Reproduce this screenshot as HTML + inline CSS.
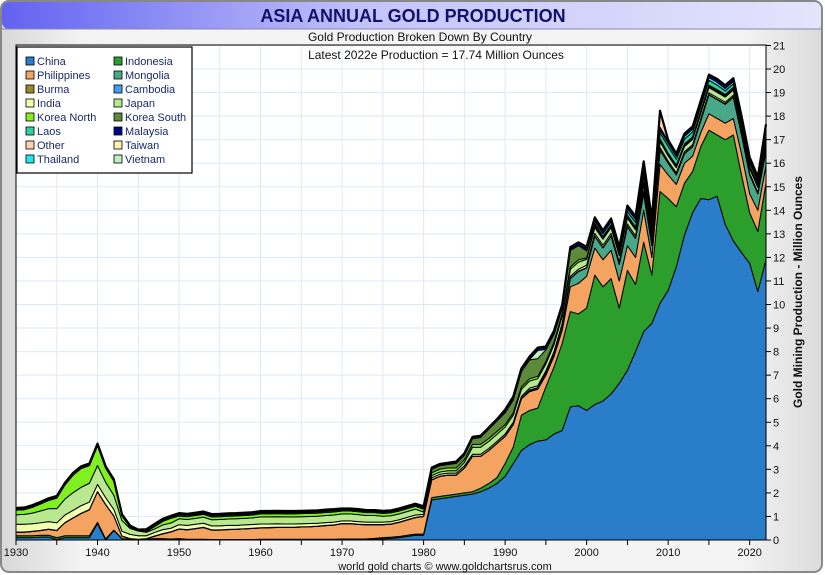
<!DOCTYPE html>
<html><head><meta charset="utf-8"><style>
html,body{margin:0;padding:0;background:#fff;}
svg{display:block;font-family:"Liberation Sans",sans-serif;}
</style></head><body>
<svg id="chart" width="825" height="575" viewBox="0 0 825 575" xmlns="http://www.w3.org/2000/svg">
<defs>
<linearGradient id="tg" x1="0" x2="1" y1="0" y2="0"><stop offset="0" stop-color="#6262f2"/><stop offset="0.45" stop-color="#c4c4fa"/><stop offset="1" stop-color="#e4e4fc"/></linearGradient>
<linearGradient id="bg" x1="0" x2="1" y1="0" y2="0"><stop offset="0" stop-color="#d8d8d8"/><stop offset="0.1" stop-color="#f4f4f4"/><stop offset="0.9" stop-color="#f4f4f4"/><stop offset="1" stop-color="#dcdcdc"/></linearGradient>
</defs>
<rect x="1" y="1" width="821" height="571" rx="8" fill="url(#bg)" stroke="#888" stroke-width="2"/>
<rect x="2" y="2" width="819" height="27" rx="7" fill="url(#tg)"/>
<line x1="2" y1="29" x2="821" y2="29" stroke="#8888aa" stroke-width="1"/>
<text x="413" y="22" text-anchor="middle" font-size="18" font-weight="bold" fill="#12126e">ASIA ANNUAL GOLD PRODUCTION</text>
<rect x="16" y="45" width="750" height="495" fill="#fff"/>
<g id="grid"></g>
<g id="areas"></g>
<rect x="16" y="45" width="750" height="495" fill="none" stroke="#000" stroke-width="1"/>
<g id="axes"></g>
<text x="420" y="41" text-anchor="middle" font-size="12" fill="#111">Gold Production Broken Down By Country</text>
<text x="436" y="59" text-anchor="middle" font-size="12" fill="#111">Latest 2022e Production = 17.74 Million Ounces</text>
<text transform="translate(802,292) rotate(-90)" text-anchor="middle" font-size="12" font-weight="bold" fill="#111">Gold Mining Production - Million Ounces</text>
<text x="445" y="570" text-anchor="middle" font-size="11" fill="#111">world gold charts © www.goldchartsrus.com</text>
<g id="legend"><rect x="17" y="47" width="175" height="126" fill="#fff" stroke="#000" stroke-width="1.2"/></g>
</svg>
<script>
const firstYear = 1930;
const seriesNames = ["China","Indonesia","Philippines","Mongolia","Burma","India","Japan","Korea North","Korea South","Vietnam","Laos","Thailand","Malaysia","Other","Taiwan","Cambodia"];
const seriesColors = ["#2a7dc8","#2c9e2c","#f4a460","#4aa88a","#9a8a2a","#f0ffb0","#b8e890","#80f020","#5a8a3a","#c0f0c0","#30d0a0","#20e8f0","#000080","#ffd0b0","#fff0b0","#40a0f0"];
const yTicks = [0,1,2,3,4,5,6,7,8,9,10,11,12,13,14,15,16,17,18,19,20,21];
const xTicks = [1930,1940,1950,1960,1970,1980,1990,2000,2010,2020];
const china = [0.1,0.1,0.1,0.12,0.12,0.02,0.1,0.1,0.1,0.1, 0.7,0.0,0.4,0.05,0.02,0.0,0.02,0.05,0.05,0.03, 0.05,0.02,0.02,0.02,0.01,0.01,0.01,0.01,0.01,0.01, 0.01,0.01,0.01,0.01,0.01,0.01,0.01,0.01,0.01,0.01, 0.01,0.01,0.01,0.02,0.03,0.05,0.07,0.1,0.15,0.2, 0.2,1.7,1.75,1.8,1.85,1.9,1.95,2.05,2.2,2.4, 2.7,3.25,3.8,4.05,4.2,4.25,4.5,4.65,5.65,5.7, 5.5,5.75,5.9,6.2,6.65,7.2,8.0,8.85,9.2,10.05, 10.6,11.6,12.95,13.9,14.5,14.45,14.6,13.4,12.7,12.2, 11.75,10.55,11.9];
const indonesia = [0.08,0.08,0.08,0.08,0.08,0.08,0.08,0.08,0.08,0.08, 0.05,0.05,0.02,0.01,0.01,0.01,0.01,0.01,0.01,0.01, 0.01,0.01,0.01,0.01,0.01,0.01,0.01,0.01,0.01,0.01, 0.02,0.02,0.02,0.02,0.02,0.02,0.02,0.02,0.02,0.02, 0.03,0.03,0.03,0.03,0.04,0.05,0.05,0.05,0.05,0.05, 0.05,0.1,0.1,0.1,0.1,0.1,0.1,0.15,0.2,0.25, 0.55,0.7,1.5,1.45,1.4,2.25,2.85,3.7,4.05,3.9, 4.35,5.5,4.85,4.9,3.2,4.25,2.85,3.8,2.05,4.75, 3.9,2.55,2.2,1.75,2.2,2.95,2.6,3.6,4.5,3.3, 2.15,2.55,3.25];
const philippines = [0.15,0.15,0.18,0.2,0.25,0.3,0.55,0.75,0.95,1.1, 1.3,1.45,0.6,0.1,0.02,0.01,0.02,0.1,0.2,0.3, 0.4,0.4,0.45,0.5,0.4,0.4,0.42,0.43,0.45,0.47, 0.48,0.49,0.5,0.5,0.5,0.52,0.53,0.55,0.58,0.6, 0.65,0.65,0.62,0.6,0.58,0.55,0.55,0.6,0.65,0.7, 0.75,0.75,0.85,0.85,0.8,1.05,1.5,1.35,1.4,1.45, 1.15,0.95,0.7,0.8,0.8,0.5,0.45,0.55,1.05,1.3, 1.35,1.15,1.15,1.2,1.15,1.05,1.15,1.35,0.75,1.15, 1.0,0.95,0.85,0.65,0.6,0.7,0.7,0.7,0.7,0.9, 0.8,0.9,0.75];
const mongolia = [0,0,0,0,0,0,0,0,0,0, 0,0,0,0,0,0,0,0,0,0, 0,0,0,0,0,0,0,0,0,0, 0,0,0,0,0,0,0,0,0,0, 0,0,0,0,0,0,0,0,0,0, 0,0,0,0,0,0,0,0,0,0, 0,0,0,0.05,0.05,0.08,0.1,0.2,0.35,0.5, 0.35,0.5,0.5,0.6,0.7,0.8,0.8,0.7,0.5,0.6, 0.5,0.4,0.4,0.4,0.5,0.8,0.8,0.8,0.9,0.8, 0.8,0.7,0.6];
const burma = [0.01,0.01,0.01,0.01,0.01,0.01,0.01,0.01,0.01,0.01, 0.01,0.01,0.01,0.01,0.01,0.01,0.01,0.01,0.01,0.01, 0.01,0.01,0.01,0.01,0.01,0.01,0.01,0.01,0.01,0.01, 0.01,0.01,0.01,0.01,0.01,0.01,0.01,0.01,0.01,0.01, 0.01,0.01,0.01,0.01,0.01,0.01,0.01,0.01,0.01,0.01, 0.01,0.01,0.01,0.01,0.01,0.01,0.01,0.01,0.01,0.01, 0.02,0.02,0.02,0.02,0.02,0.02,0.02,0.02,0.02,0.02, 0.02,0.02,0.02,0.02,0.02,0.02,0.02,0.02,0.02,0.02, 0.02,0.02,0.02,0.02,0.02,0.02,0.02,0.02,0.02,0.02, 0.02,0.02,0.02];
const india = [0.33,0.33,0.32,0.32,0.32,0.32,0.32,0.32,0.32,0.32, 0.3,0.29,0.27,0.2,0.18,0.15,0.12,0.15,0.17,0.15, 0.18,0.18,0.18,0.17,0.17,0.17,0.17,0.16,0.16,0.16, 0.16,0.15,0.15,0.14,0.14,0.13,0.13,0.12,0.12,0.12, 0.11,0.11,0.11,0.1,0.1,0.1,0.1,0.1,0.1,0.1, 0.08,0.08,0.08,0.08,0.08,0.08,0.08,0.08,0.08,0.08, 0.08,0.08,0.08,0.08,0.08,0.08,0.08,0.08,0.08,0.08, 0.1,0.1,0.1,0.1,0.1,0.1,0.1,0.1,0.1,0.1, 0.07,0.07,0.07,0.07,0.07,0.07,0.07,0.07,0.07,0.07, 0.05,0.05,0.05];
const japan = [0.4,0.42,0.45,0.5,0.55,0.6,0.68,0.75,0.78,0.8, 0.8,0.65,0.6,0.45,0.25,0.2,0.15,0.15,0.2,0.22, 0.25,0.25,0.25,0.26,0.26,0.27,0.27,0.28,0.28,0.28, 0.3,0.3,0.3,0.3,0.3,0.3,0.3,0.3,0.3,0.3, 0.3,0.3,0.3,0.28,0.28,0.25,0.25,0.25,0.25,0.25, 0.1,0.1,0.1,0.1,0.1,0.15,0.3,0.3,0.3,0.3, 0.3,0.3,0.3,0.3,0.3,0.3,0.3,0.3,0.3,0.3, 0.25,0.25,0.25,0.25,0.25,0.25,0.25,0.25,0.25,0.25, 0.22,0.22,0.22,0.22,0.22,0.22,0.22,0.22,0.22,0.22, 0.2,0.2,0.2];
const koreaNorth = [0.2,0.2,0.25,0.3,0.35,0.45,0.6,0.75,0.8,0.75, 0.85,0.6,0.6,0.2,0.05,0.0,0.02,0.1,0.15,0.2, 0.12,0.12,0.12,0.12,0.12,0.12,0.12,0.12,0.12,0.12, 0.13,0.13,0.13,0.13,0.13,0.13,0.13,0.13,0.13,0.13, 0.12,0.12,0.12,0.12,0.12,0.12,0.12,0.12,0.12,0.12, 0.12,0.12,0.12,0.12,0.12,0.12,0.12,0.12,0.12,0.12, 0.1,0.1,0.1,0.1,0.1,0.1,0.1,0.1,0.1,0.1, 0.06,0.06,0.06,0.06,0.06,0.06,0.06,0.06,0.06,0.06, 0.05,0.05,0.05,0.05,0.05,0.05,0.05,0.05,0.05,0.05, 0.05,0.05,0.05];
const koreaSouth = [0,0,0,0,0,0,0,0,0,0, 0,0,0,0,0,0,0.05,0.05,0.05,0.05, 0.05,0.05,0.05,0.05,0.05,0.05,0.05,0.05,0.05,0.05, 0.05,0.05,0.05,0.05,0.05,0.05,0.05,0.05,0.05,0.05, 0.05,0.05,0.05,0.05,0.05,0.05,0.05,0.05,0.05,0.05, 0.05,0.15,0.15,0.15,0.2,0.2,0.25,0.3,0.4,0.45, 0.5,0.55,0.65,0.8,0.75,0.5,0.35,0.25,0.7,0.6, 0.3,0.1,0.03,0.03,0.03,0.03,0.03,0.03,0.03,0.03, 0.03,0.03,0.03,0.03,0.03,0.03,0.03,0.03,0.03,0.03, 0.03,0.03,0.03];
const vietnam = [0,0,0,0,0,0,0,0,0,0, 0,0,0,0,0,0,0,0,0,0, 0,0,0,0,0,0,0,0,0,0, 0,0,0,0,0,0,0,0,0,0, 0,0,0,0,0,0,0,0,0,0, 0,0,0,0,0,0,0,0,0,0, 0.02,0.02,0.02,0.02,0.35,0.02,0.02,0.02,0.02,0.02, 0.03,0.03,0.03,0.03,0.03,0.03,0.03,0.03,0.03,0.03, 0.03,0.03,0.03,0.03,0.03,0.03,0.03,0.03,0.03,0.03, 0.03,0.03,0.03];
const laos = [0,0,0,0,0,0,0,0,0,0, 0,0,0,0,0,0,0,0,0,0, 0,0,0,0,0,0,0,0,0,0, 0,0,0,0,0,0,0,0,0,0, 0,0,0,0,0,0,0,0,0,0, 0,0,0,0,0,0,0,0,0,0, 0,0,0,0,0,0,0,0,0,0, 0,0,0,0,0,0.15,0.2,0.25,0.15,0.25, 0.3,0.25,0.2,0.2,0.2,0.2,0.2,0.15,0.15,0.15, 0.15,0.12,0.12];
const thailand = [0,0,0,0,0,0,0,0,0,0, 0,0,0,0,0,0,0,0,0,0, 0,0,0,0,0,0,0,0,0,0, 0,0,0,0,0,0,0,0,0,0, 0,0,0,0,0,0,0,0,0,0, 0,0,0,0,0,0,0,0,0,0, 0,0,0,0,0,0,0,0,0,0, 0,0.1,0.12,0.12,0.12,0.12,0.12,0.12,0.12,0.12, 0.12,0.12,0.12,0.12,0.12,0.12,0.12,0.1,0.1,0.1, 0.1,0.1,0.1];
const malaysia = [0.02,0.02,0.02,0.02,0.02,0.02,0.02,0.02,0.02,0.02, 0.02,0.02,0.02,0.02,0.02,0.02,0.02,0.02,0.02,0.02, 0.03,0.03,0.03,0.03,0.03,0.03,0.03,0.03,0.03,0.03, 0.03,0.03,0.03,0.03,0.03,0.03,0.03,0.03,0.03,0.03, 0.03,0.03,0.03,0.03,0.03,0.03,0.03,0.03,0.03,0.03, 0.05,0.05,0.05,0.05,0.05,0.05,0.05,0.05,0.05,0.05, 0.1,0.1,0.1,0.1,0.1,0.1,0.1,0.1,0.1,0.1, 0.12,0.12,0.12,0.12,0.12,0.12,0.12,0.12,0.12,0.12, 0.1,0.1,0.1,0.1,0.1,0.1,0.1,0.1,0.1,0.1, 0.08,0.08,0.08];
const other = [0.02,0.02,0.02,0.02,0.02,0.02,0.02,0.02,0.02,0.02, 0.02,0.02,0.02,0.02,0.02,0.02,0.02,0.02,0.02,0.02, 0.02,0.02,0.02,0.02,0.02,0.02,0.02,0.02,0.02,0.02, 0.02,0.02,0.02,0.02,0.02,0.02,0.02,0.02,0.02,0.02, 0.02,0.02,0.02,0.02,0.02,0.02,0.02,0.02,0.02,0.02, 0.02,0.02,0.02,0.02,0.02,0.02,0.02,0.02,0.02,0.02, 0.02,0.02,0.02,0.02,0.02,0.02,0.02,0.02,0.02,0.02, 0.02,0.02,0.02,0.02,0.02,0.02,0.02,0.4,0.25,0.7, 0.05,0.02,0.02,0.02,0.02,0.02,0.02,0.02,0.02,0.02, 0.02,0.02,0.45];
const taiwan = [0.05,0.05,0.05,0.05,0.05,0.05,0.05,0.05,0.05,0.05, 0.04,0.04,0.04,0.03,0.03,0.02,0.02,0.02,0.02,0.02, 0.02,0.02,0.02,0.02,0.02,0.02,0.02,0.02,0.02,0.02, 0.02,0.02,0.02,0.02,0.02,0.02,0.02,0.02,0.02,0.02, 0.01,0.01,0.01,0.01,0.01,0.01,0.01,0.01,0.01,0.01, 0,0,0,0,0,0,0,0,0,0, 0,0,0,0,0,0,0,0,0,0, 0,0,0,0,0,0,0,0,0,0, 0,0,0,0,0,0,0,0,0,0, 0,0,0];
const cambodia = [0,0,0,0,0,0,0,0,0,0, 0,0,0,0,0,0,0,0,0,0, 0,0,0,0,0,0,0,0,0,0, 0,0,0,0,0,0,0,0,0,0, 0,0,0,0,0,0,0,0,0,0, 0,0,0,0,0,0,0,0,0,0, 0,0,0,0,0,0,0,0,0,0, 0,0,0,0,0,0,0,0,0,0, 0,0,0,0,0,0,0.02,0.02,0.02,0.02, 0.02,0.02,0.02];
const seriesData = [china,indonesia,philippines,mongolia,burma,india,japan,koreaNorth,koreaSouth,vietnam,laos,thailand,malaysia,other,taiwan,cambodia];
const legendOrder = ["China","Philippines","Burma","India","Korea North","Laos","Other","Thailand","Indonesia","Mongolia","Cambodia","Japan","Korea South","Malaysia","Taiwan","Vietnam"];

const NS = "http://www.w3.org/2000/svg";
function xScale(year){ return 16 + (year - 1930) * 8.152; }
function yScale(v){ return 540 - v * 23.55; }
function mk(tag, attrs, parent){ const e = document.createElementNS(NS, tag); for (const k in attrs) e.setAttribute(k, attrs[k]); parent.appendChild(e); return e; }

const grid = document.getElementById('grid');
for (const t of yTicks) { if (t === 0) continue;
  const l = mk('line', {x1:16, x2:766, y1:yScale(t), y2:yScale(t), stroke:'#dde9f4', 'stroke-width':1}, grid);
  
  
}
for (let yr = 1935; yr <= 2020; yr += 5) {
  const l = mk('line', {x1:xScale(yr), x2:xScale(yr), y1:45, y2:540, stroke:'#dde9f4', 'stroke-width':1}, grid);
  
  
}

const areas = document.getElementById('areas');
const n = china.length;
let base = new Array(n).fill(0);
seriesData.forEach((arr, si) => {
  const top = base.map((b, i) => b + arr[i]);
  let d = '';
  for (let i = 0; i < n; i++) d += (i ? 'L' : 'M') + xScale(firstYear + i).toFixed(2) + ',' + yScale(top[i]).toFixed(2);
  for (let i = n - 1; i >= 0; i--) d += 'L' + xScale(firstYear + i).toFixed(2) + ',' + yScale(base[i]).toFixed(2);
  d += 'Z';
  const p = mk('path', {d:d, fill:seriesColors[si], stroke:'#000', 'stroke-width':1, 'stroke-linejoin':'round'}, areas);
  
  
  base = top;
});
let td = '';
for (let i = 0; i < n; i++) td += (i ? 'L' : 'M') + xScale(firstYear + i).toFixed(2) + ',' + yScale(base[i]).toFixed(2);
const tl = mk('path', {d:td, fill:'none', stroke:'#000', 'stroke-width':2.2, 'stroke-linejoin':'round'}, areas);



const axes = document.getElementById('axes');
for (const t of yTicks) {
  const y = yScale(t);
  const tk = mk('line', {x1:766, x2:771, y1:y, y2:y, stroke:'#000'}, axes);
  
  
  const tx = mk('text', {x:773, y:y + 4, 'font-size':11, fill:'#111'}, axes);
  tx.textContent = t;
  
  
}
for (let yr = 1930; yr <= 2020; yr += 5) {
  const tk = mk('line', {x1:xScale(yr), x2:xScale(yr), y1:540, y2:545, stroke:'#000'}, axes);
  
  
}
for (const yr of xTicks) {
  const tx = mk('text', {x:xScale(yr), y:556, 'font-size':11, fill:'#111', 'text-anchor':'middle'}, axes);
  tx.textContent = yr;
  
  
}

const legend = document.getElementById('legend');
legendOrder.forEach((name, i) => {
  const col = i < 8 ? 0 : 1, row = i % 8;
  const sx = col ? 114 : 26, y = 61 + row * 14;
  const g = mk('g', {}, legend);
  
  
  mk('rect', {x:sx, y:y - 4, width:8, height:8, fill:seriesColors[seriesNames.indexOf(name)], stroke:'#000', 'stroke-width':0.8}, g);
  const t = mk('text', {x:sx + 11, y:y + 4, 'font-size':11, fill:'#1a2a6a'}, g);
  t.textContent = name;
});
</script>
</body></html>
